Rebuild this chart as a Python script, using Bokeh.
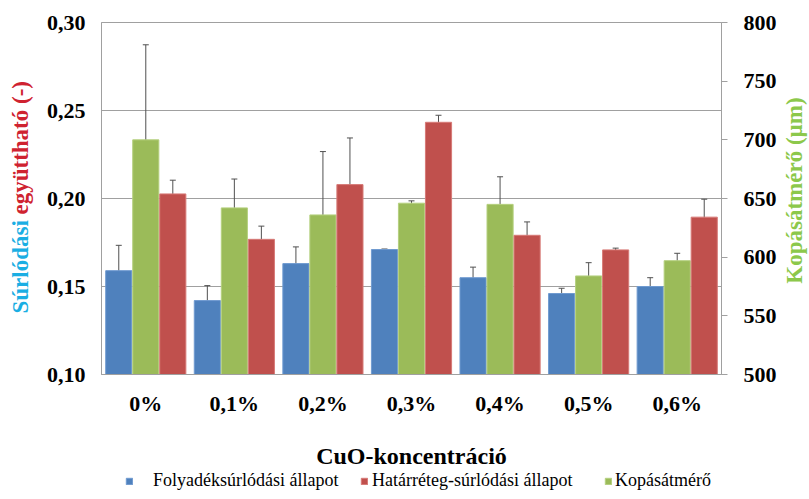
from math import pi
from bokeh.plotting import figure
from bokeh.layouts import row, column
from bokeh.models import (FactorRange, Range1d, LinearAxis, FixedTicker, CustomJSTickFormatter,
                          ColumnDataSource, Whisker, TeeHead, Label, Legend, LegendItem)
from bokeh.transform import dodge
from bokeh.embed import file_html
from bokeh.resources import INLINE

categories = ["0%", "0,1%", "0,2%", "0,3%", "0,4%", "0,5%", "0,6%"]
fluid = [0.159, 0.142, 0.163, 0.171, 0.155, 0.146, 0.150]
fluid_err = [0.0144, 0.0085, 0.0095, 0.0003, 0.006, 0.003, 0.005]
boundary = [0.2026, 0.1768, 0.2079, 0.2433, 0.1791, 0.1708, 0.1894]
boundary_err = [0.0078, 0.0075, 0.0265, 0.004, 0.0076, 0.001, 0.0102]
wear = [700, 642, 636, 646, 645, 584, 597]
wear_err = [81, 24.6, 54, 2, 23.5, 11.3, 6.3]
left_ticks = [0.10, 0.15, 0.20, 0.25, 0.30]
right_ticks = [500, 550, 600, 650, 700, 750, 800]
series_names = ["Folyadéksúrlódási állapot", "Határréteg-súrlódási állapot", "Kopásátmérő"]
series_colors = ["#4F81BD", "#C0504D", "#9BBB59"]
edge_colors = ["#6f9ad0", "#d77a77", "#b5d07f"]

FONT = "Liberation Serif"
GRAY = "#a0a0a0"
HT = 491          # total height
TW = 36           # width of left title strip
RW = 30           # width of right title strip
PH = 471          # main plot height
PW = 809 - TW - RW
FL = 101          # page x of the plot frame's left edge

src = ColumnDataSource(dict(
    cat=categories,
    fluid=fluid, fluid_lo=[v - e for v, e in zip(fluid, fluid_err)], fluid_hi=[v + e for v, e in zip(fluid, fluid_err)],
    bnd=boundary, bnd_lo=[v - e for v, e in zip(boundary, boundary_err)], bnd_hi=[v + e for v, e in zip(boundary, boundary_err)],
    wear=wear, wear_lo=[v - e for v, e in zip(wear, wear_err)], wear_hi=[v + e for v, e in zip(wear, wear_err)],
))

p = figure(width=PW, height=PH, x_range=FactorRange(*categories), y_range=Range1d(0.10, 0.30),
           output_backend="svg", toolbar_location=None,
           min_border_left=FL - TW, min_border_right=TW + PW - 721, min_border_top=22,
           min_border_bottom=PH - 376)
p.extra_y_ranges = {"right": Range1d(500, 800)}
p.outline_line_color = GRAY
p.xgrid.grid_line_color = None
p.ygrid.grid_line_color = GRAY
p.ygrid.ticker = FixedTicker(ticks=left_ticks)

W = 0.295
OFF = 0.305
r_blue = p.vbar(x=dodge("cat", -OFF, range=p.x_range), top="fluid", bottom=0.10, width=W, source=src,
                fill_color=series_colors[0], line_color=edge_colors[0], line_width=1)
r_green = p.vbar(x=dodge("cat", 0.0, range=p.x_range), top="wear", bottom=500, width=W, source=src,
                 fill_color=series_colors[2], line_color=edge_colors[2], line_width=1, y_range_name="right")
r_red = p.vbar(x=dodge("cat", OFF, range=p.x_range), top="bnd", bottom=0.10, width=W, source=src,
               fill_color=series_colors[1], line_color=edge_colors[1], line_width=1)

EC = "#505050"
for off, lo, hi, rn in [(-OFF, "fluid_lo", "fluid_hi", "default"),
                         (0.0, "wear_lo", "wear_hi", "right"),
                         (OFF, "bnd_lo", "bnd_hi", "default")]:
    w = Whisker(base=dodge("cat", off, range=p.x_range), lower=lo, upper=hi, source=src,
                dimension="height", line_color=EC, line_width=1, y_range_name=rn,
                upper_head=TeeHead(size=6, line_color=EC, line_width=1),
                lower_head=TeeHead(size=6, line_color=EC, line_width=1))
    p.add_layout(w)

def style_ticks(ax):
    ax.major_label_text_font = FONT
    ax.major_label_text_font_style = "bold"
    ax.major_label_text_font_size = "22px"
    ax.major_label_text_color = "black"
    ax.axis_line_color = GRAY
    ax.minor_tick_out = 0
    ax.minor_tick_in = 0

la = p.yaxis[0]
la.ticker = FixedTicker(ticks=left_ticks)
la.formatter = CustomJSTickFormatter(code="return tick.toFixed(2).replace('.', ',');")
la.major_tick_out = 0
la.major_tick_in = 0
la.major_label_standoff = 16
style_ticks(la)

ra = LinearAxis(y_range_name="right", ticker=FixedTicker(ticks=right_ticks))
ra.major_tick_out = 6
ra.major_tick_in = 0
ra.major_tick_line_color = GRAY
ra.major_label_standoff = 16
style_ticks(ra)
p.add_layout(ra, "right")

xa = p.xaxis[0]
xa.major_tick_line_color = None
xa.major_label_standoff = 10
style_ticks(xa)
xa.axis_label = "CuO-koncentráció"
xa.axis_label_standoff = 24
xa.axis_label_text_font = FONT
xa.axis_label_text_font_style = "bold"
xa.axis_label_text_font_size = "24px"
xa.axis_label_text_color = "black"

def strip(width):
    f = figure(width=width, height=HT, x_range=Range1d(0, width), y_range=Range1d(0, HT),
               output_backend="svg", toolbar_location=None, min_border=0,
               x_axis_location=None, y_axis_location=None)
    f.outline_line_color = None
    f.xgrid.visible = False
    f.ygrid.visible = False
    return f

def vlab(f, text, x, y, color, align):
    f.add_layout(Label(x=x, y=y, x_units="screen", y_units="screen", text=text, angle=pi / 2,
                       text_align=align, text_baseline="middle", text_color=color,
                       text_font=FONT, text_font_style="bold", text_font_size="23px"))

# left two-coloured title strip
t = strip(TW)
vlab(t, "Súrlódási", 20, HT - 313, "#1aaee3", "left")
vlab(t, "együttható (-)", 20, HT - 214, "#cf2230", "left")

# right title strip
rt = strip(RW)
vlab(rt, "Kopásátmérő (µm)", 15, HT - 190, "#8cc84b", "center")

# legend strip under the plot (its frame is aligned with the plot frame)
LH = HT - PH
lf = figure(width=PW, height=LH, x_range=Range1d(0, PW), y_range=Range1d(0, LH),
            output_backend="svg", toolbar_location=None, min_border=0,
            x_axis_location=None, y_axis_location=None)
lf.outline_line_color = None
lf.xgrid.visible = False
lf.ygrid.visible = False

nan = float("nan")
for name, fc, lc, x0, so in zip(series_names, series_colors, edge_colors, [125, 360, 604], [20, 4, 3]):
    r = lf.vbar(x=[nan], top=[nan], bottom=[nan], width=1, fill_color=fc, line_color=lc)
    lf.add_layout(Legend(items=[LegendItem(label=name, renderers=[r])], location=(x0 - FL, 0),
                         glyph_width=8, glyph_height=8, label_standoff=so, padding=0, margin=0,
                         border_line_color=None, background_fill_alpha=0, label_text_font=FONT,
                         label_text_font_size="18px", label_height=18, label_text_color="black"))

open("out.html", "w").write(file_html(row(t, column(p, lf), rt), INLINE))
